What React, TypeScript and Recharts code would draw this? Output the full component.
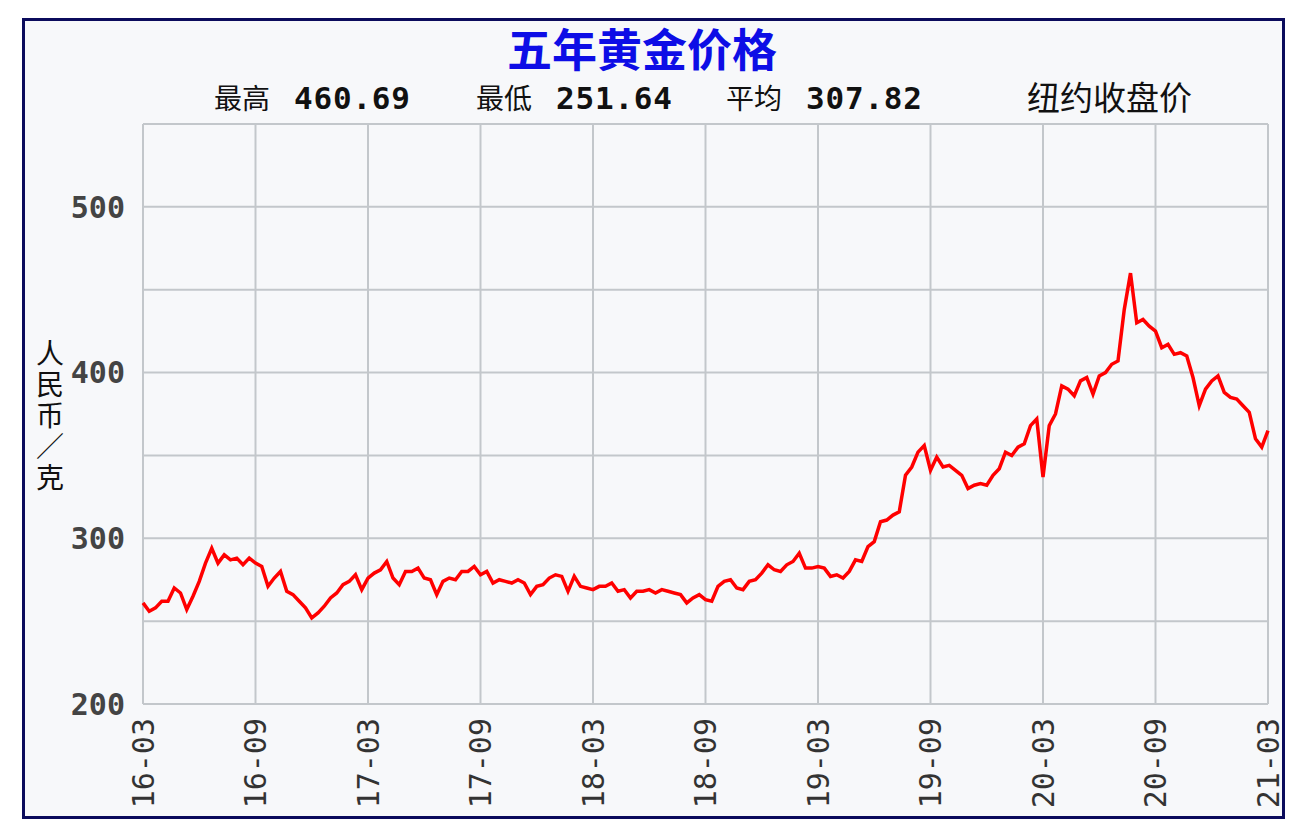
import { CartesianGrid, Line, LineChart, XAxis, YAxis } from 'recharts';

// 五年黄金价格 — roughly three readings per month, 16-03 .. 21-03
const prices = [
  261, 256, 258, 262, 262, 270, 267, 257, 265, 274,
  285, 294, 285, 290, 287, 288, 284, 288, 285, 283,
  271, 276, 280, 268, 266, 262, 258, 252, 255, 259,
  264, 267, 272, 274, 278, 269, 276, 279, 281, 286,
  276, 272, 280, 280, 282, 276, 275, 266, 274, 276,
  275, 280, 280, 283, 278, 280, 273, 275, 274, 273,
  275, 273, 266, 271, 272, 276, 278, 277, 268, 277,
  271, 270, 269, 271, 271, 273, 268, 269, 264, 268,
  268, 269, 267, 269, 268, 267, 266, 261, 264, 266,
  263, 262, 271, 274, 275, 270, 269, 274, 275, 279,
  284, 281, 280, 284, 286, 291, 282, 282, 283, 282,
  277, 278, 276, 280, 287, 286, 295, 298, 310, 311,
  314, 316, 338, 343, 352, 356, 341, 349, 343, 344,
  341, 338, 330, 332, 333, 332, 338, 342, 352, 350,
  355, 357, 368, 372, 337, 368, 375, 392, 390, 386,
  395, 397, 387, 398, 400, 405, 407, 438, 460, 430,
  432, 428, 425, 415, 417, 411, 412, 410, 397, 380,
  390, 395, 398, 388, 385, 384, 380, 376, 360, 355,
  365,
];

const xTicks = [0, 18, 36, 54, 72, 90, 108, 126, 144, 162, 180];
const xLabels = ['16-03', '16-09', '17-03', '17-09', '18-03', '18-09', '19-03', '19-09', '20-03', '20-09', '21-03'];
const yTicks = [200, 250, 300, 350, 400, 450, 500, 550];

const stats = [
  { label: '最高', value: '460.69', left: 214 },
  { label: '最低', value: '251.64', left: 476 },
  { label: '平均', value: '307.82', left: 726 },
];

const MONO = '"DejaVu Sans Mono", "Liberation Mono", monospace';
const CJK = '"Noto Sans CJK SC", sans-serif';
const GRID = '#c3c7cb';

function XTick({ x, y, payload }: any) {
  const idx = xTicks.indexOf(payload.value);
  return (
    <text
      x={x}
      y={y}
      transform={`rotate(-90, ${x}, ${y})`}
      textAnchor="end"
      dominantBaseline="central"
      fontFamily={MONO}
      fontSize={30}
      fill="#333"
    >
      {xLabels[idx]}
    </text>
  );
}

export default function App() {
  const data = prices.map((p, i) => ({ i, p }));

  return (
    <div style={{ position: 'absolute', left: 0, top: 0, width: 1302, height: 838, background: '#fff' }}>
      <div
        style={{
          position: 'absolute',
          left: 22,
          top: 18,
          width: 1257,
          height: 795,
          border: '3px solid #0b0b5c',
          background: '#f7f8fa',
        }}
      >
        <LineChart width={1257} height={795} data={data} margin={{ top: 103, right: 14, left: 58, bottom: 22 }}>
          <CartesianGrid stroke={GRID} strokeWidth={2} />
          <XAxis
            dataKey="i"
            type="number"
            domain={[0, 180]}
            ticks={xTicks}
            tick={<XTick />}
            tickLine={false}
            axisLine={false}
            height={90}
            interval={0}
            tickMargin={8}
          />
          <YAxis
            type="number"
            domain={[200, 550]}
            ticks={yTicks}
            tickFormatter={(v) => (v % 100 === 0 ? String(v) : '')}
            tick={{ fontFamily: MONO, fontSize: 30, fontWeight: 700, fill: '#444' }}
            tickLine={false}
            axisLine={false}
            width={60}
            tickMargin={12}
            interval={0}
          />
          <Line
            type="linear"
            dataKey="p"
            stroke="#ff0000"
            strokeWidth={3.5}
            dot={false}
            isAnimationActive={false}
          />
        </LineChart>

        <div
          style={{
            position: 'absolute',
            left: 482,
            top: 4,
            fontFamily: CJK,
            fontWeight: 700,
            fontSize: 45,
            color: '#0d0de6',
            lineHeight: '46px',
          }}
        >
          五年黄金价格
        </div>

        {stats.map((s) => (
          <div
            key={s.label}
            style={{
              position: 'absolute',
              left: s.left - 25,
              top: 60,
              height: 32,
              lineHeight: '32px',
              whiteSpace: 'nowrap',
              color: '#111',
            }}
          >
            <span style={{ fontFamily: CJK, fontSize: 28 }}>{s.label}</span>
            <span style={{ fontFamily: MONO, fontSize: 31, fontWeight: 700, marginLeft: 24, letterSpacing: 0.8 }}>
              {s.value}
            </span>
          </div>
        ))}

        <div
          style={{
            position: 'absolute',
            left: 1002,
            top: 58,
            fontFamily: CJK,
            fontSize: 33,
            lineHeight: '34px',
            color: '#111',
          }}
        >
          纽约收盘价
        </div>

        <div
          style={{
            position: 'absolute',
            left: 11,
            top: 318,
            writingMode: 'vertical-rl',
            fontFamily: CJK,
            fontSize: 28,
            lineHeight: '28px',
            letterSpacing: 3,
            color: '#111',
          }}
        >
          人民币／克
        </div>
      </div>
    </div>
  );
}
